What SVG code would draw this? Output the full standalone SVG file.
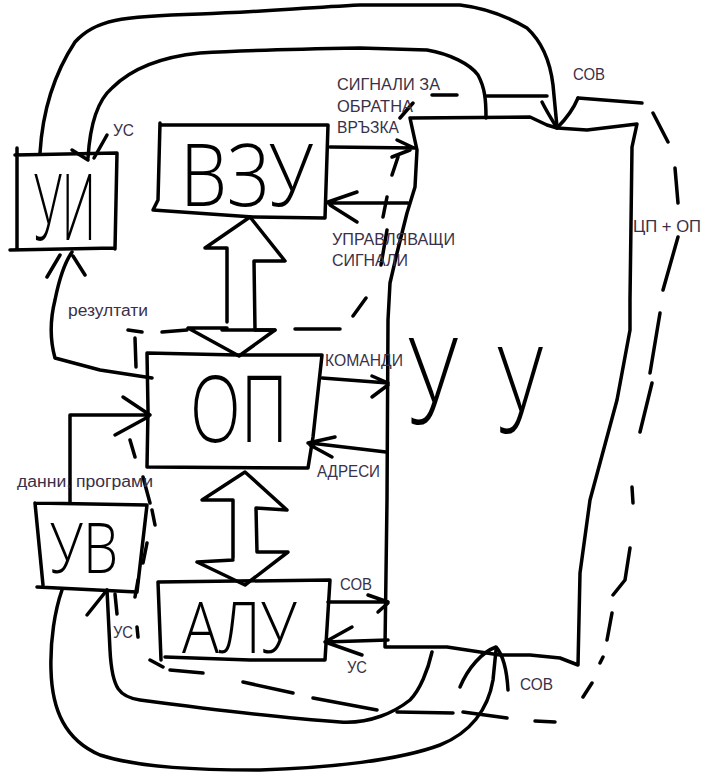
<svg xmlns="http://www.w3.org/2000/svg" width="715" height="773" viewBox="0 0 715 773">
<style>
.s{fill:none;stroke:#000;stroke-width:3.5;stroke-linecap:round;stroke-linejoin:round}
.big{font-family:"Open Sans","Lato","Liberation Sans",sans-serif;font-weight:300;fill:#000}
.lb{font-family:"Liberation Sans","DejaVu Sans",sans-serif;font-size:16px;fill:#3a3048}
</style>
<rect width="715" height="773" fill="#fff"/>
<g id="boundary" class="s">
<path d="M432,95 L457,95 M400,118 L413,103 M392,175 L398,157 M383,217 L387,197 M387,230 L381,265 M353,316 L366,298 M295,329 L340,329 M222,330 L275,330 M162,332 L187,330 M128,330 L142,332 M135,338 L136,367 M130,440 L135,457 M143,477 L150,503 M152,510 L155,525 M147,543 L143,563 M138,580 L135,597 M137,627 L138,637 M150,660 L163,667 M170,670 L203,673 M243,682 L293,693 M313,698 L377,710 M397,712 L453,713 M463,712 L507,718 M535,721 L555,722 M583,697 L592,683 M600,663 L603,657 M607,640 L612,613 M613,595 L625,580 L630,548 M632,487 L633,503 M640,432 L652,383 M650,373 L660,313 M663,290 L678,237 M678,203 L675,168 M668,142 L653,113 M578,98 L642,103"/>
</g>
<g id="connectors" class="s">
<path d="M40,153 C42,120 50,80 75,42 C95,20 120,16 200,14 C260,12 300,8 360,5 L460,5 C485,8 510,18 527,28 C540,40 550,60 553,85 L557,127"/>
<path d="M542,102 C547,112 552,120 557,128 C565,120 573,110 578,98"/>
<path d="M88,158 C90,125 98,100 112,88 C130,70 160,57 200,53 C250,50 300,49 360,48 L427,50 C450,54 470,64 478,75 C485,88 486,100 486,118"/>
<path d="M487,96 L547,96"/>
<path d="M107,135 L94,158 M72,150 L88,160"/>
<path d="M152,378 L100,370 L55,358 C50,340 50,320 55,300 C58,285 63,265 72,252 M47,277 L60,255 M85,275 L73,256"/>
<path d="M70,503 L70,415 L150,415 M123,397 L150,415 M115,435 L148,417"/>
<path d="M330,147 L416,148 M397,140 L414,148 M392,157 L410,150"/>
<path d="M408,203 L328,203 M357,192 L328,202 M357,222 L330,205"/>
<path d="M322,378 L388,383 M372,376 L388,383 M372,397 L388,385"/>
<path d="M386,452 L310,443 M335,437 L308,443 M332,457 L310,445"/>
<path d="M328,602 L388,602 M368,595 L388,602 M378,612 L388,603"/>
<path d="M388,640 L325,642 M352,627 L325,642 M362,655 L328,643"/>
<path d="M227,322 L227,248 L205,248 L250,217 L285,261 L254,261 L255,330 L275,330 L239,356 L188,328 L227,328"/>
<path d="M233,558 L233,500 L202,500 L245,472 L287,510 L256,508 L257,552 L288,552 L245,585 L197,562 L233,560"/>
<path d="M62,590 C55,610 50,640 51,670 C52,710 65,740 100,755 C140,768 200,770 260,770 C330,768 400,760 440,745 C470,733 488,710 493,680 L496,650"/>
<path d="M460,687 C468,668 482,652 496,647 C503,655 507,672 508,690"/>
<path d="M107,590 L110,650 C112,690 120,697 140,700 C200,708 280,718 340,722 C370,724 395,712 410,700 C420,690 428,670 432,652"/>
<path d="M87,615 L107,590 M115,594 L117,614"/>
</g>
<g id="UI">
<path class="s" d="M17,148 L17,250 M15,155 L117,153 L115,249 M10,250 L115,248"/>
<text class="big" x="34" y="240" font-size="92" textLength="62" lengthAdjust="spacingAndGlyphs">УИ</text>
</g>
<g id="VZU">
<path class="s" d="M160,125 L328,125 L325,218 L253,217 L153,210 L158,200 L160,123"/>
<text class="big" x="180" y="206" font-size="86" textLength="133" lengthAdjust="spacingAndGlyphs">ВЗУ</text>
</g>
<g id="OP">
<path class="s" d="M147,353 L237,355 L322,355 L313,437 L308,468 L147,467 L148,410 L147,353"/>
<text class="big" transform="translate(190,442) scale(0.7,1)" x="0" y="0" font-size="92" textLength="140" lengthAdjust="spacingAndGlyphs">ОП</text>
</g>
<g id="UV">
<path class="s" d="M35,503 L147,505 L137,592 L37,587 M35,503 L43,585"/>
<text class="big" x="50" y="573" font-size="70" textLength="68" lengthAdjust="spacingAndGlyphs">УВ</text>
</g>
<g id="ALU">
<path class="s" d="M158,582 L330,580 L325,660 L250,660 L165,657 M158,582 L161,660"/>
<text class="big" x="182" y="653" font-size="72" textLength="115" lengthAdjust="spacingAndGlyphs">АЛУ</text>
</g>
<g id="UU">
<path class="s" d="M410,118 L530,117 L547,125 L557,128 L587,130 L637,124 L632,147 L630,300 L630,330 L617,400 L590,500 L580,573 L578,665 L560,658 L530,655 L500,655 L480,652 L447,647 L385,647 L387,500 L388,320 L390,283 L397,253 L407,213 L415,187 L417,150 L410,118"/>
<text class="big" x="408" y="424" font-size="120" textLength="50" lengthAdjust="spacingAndGlyphs">У</text>
<text class="big" x="497" y="433" font-size="120" textLength="46" lengthAdjust="spacingAndGlyphs">У</text>
</g>
<g id="labels">
<text class="lb" x="113" y="136" textLength="21" lengthAdjust="spacingAndGlyphs">УС</text>
<text class="lb" x="337" y="90" textLength="103" lengthAdjust="spacingAndGlyphs">СИГНАЛИ ЗА</text>
<text class="lb" x="337" y="112" textLength="76" lengthAdjust="spacingAndGlyphs">ОБРАТНА</text>
<text class="lb" x="337" y="133" textLength="62" lengthAdjust="spacingAndGlyphs">ВРЪЗКА</text>
<text class="lb" x="573" y="80" textLength="32" lengthAdjust="spacingAndGlyphs">СОВ</text>
<text class="lb" x="633" y="232" textLength="68" lengthAdjust="spacingAndGlyphs">ЦП + ОП</text>
<text class="lb" x="332" y="245" textLength="123" lengthAdjust="spacingAndGlyphs">УПРАВЛЯВАЩИ</text>
<text class="lb" x="332" y="266" textLength="76" lengthAdjust="spacingAndGlyphs">СИГНАЛИ</text>
<text class="lb" x="68" y="316" textLength="80" lengthAdjust="spacingAndGlyphs">резултати</text>
<text class="lb" x="325" y="366" textLength="78" lengthAdjust="spacingAndGlyphs">КОМАНДИ</text>
<text class="lb" x="317" y="477" textLength="63" lengthAdjust="spacingAndGlyphs">АДРЕСИ</text>
<text class="lb" x="17" y="487" textLength="136" lengthAdjust="spacingAndGlyphs">данни, програми</text>
<text class="lb" x="340" y="590" textLength="32" lengthAdjust="spacingAndGlyphs">СОВ</text>
<text class="lb" x="113" y="638" textLength="20" lengthAdjust="spacingAndGlyphs">УС</text>
<text class="lb" x="347" y="673" textLength="20" lengthAdjust="spacingAndGlyphs">УС</text>
<text class="lb" x="520" y="690" textLength="33" lengthAdjust="spacingAndGlyphs">СОВ</text>
</g>
</svg>
